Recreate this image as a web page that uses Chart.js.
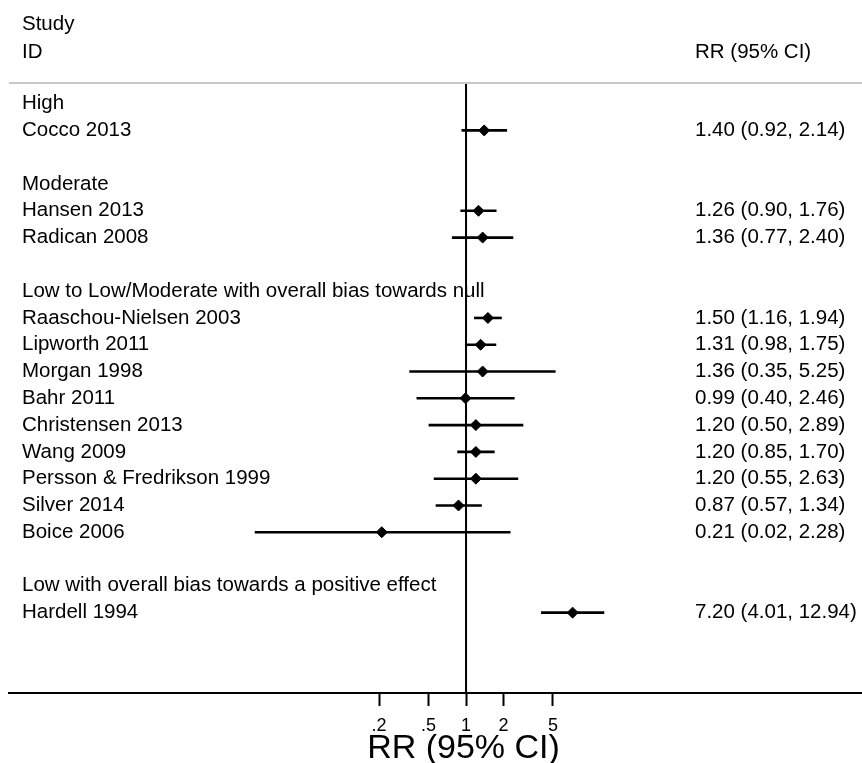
<!DOCTYPE html>
<html>
<head>
<meta charset="utf-8">
<script src="https://cdn.jsdelivr.net/npm/chart.js@4"></script>
<style>
  body { margin: 0; background: #fff; }
  canvas { display: block; }
</style>
</head>
<body>
<canvas id="forest" width="862" height="763"></canvas>
<script>
// datos del forest plot
const groups = ['High', 'Moderate', 'Low to Low/Moderate with overall bias towards null', 'Low with overall bias towards a positive effect'];
const groupRows = [0, 3, 7, 18];

const studies = ['Cocco 2013', 'Hansen 2013', 'Radican 2008', 'Raaschou-Nielsen 2003', 'Lipworth 2011', 'Morgan 1998',
  'Bahr 2011', 'Christensen 2013', 'Wang 2009', 'Persson & Fredrikson 1999', 'Silver 2014', 'Boice 2006', 'Hardell 1994'];
const studyRows = [1, 4, 5, 8, 9, 10, 11, 12, 13, 14, 15, 16, 19];
const rr    = [1.40, 1.26, 1.36, 1.50, 1.31, 1.36, 0.99, 1.20, 1.20, 1.20, 0.87, 0.21, 7.20];
const lower = [0.92, 0.90, 0.77, 1.16, 0.98, 0.35, 0.40, 0.50, 0.85, 0.55, 0.57, 0.02, 4.01];
const upper = [2.14, 1.76, 2.40, 1.94, 1.75, 5.25, 2.46, 2.89, 1.70, 2.63, 1.34, 2.28, 12.94];

const xTicks = [0.2, 0.5, 1, 2, 5];
const xTickLabels = ['.2', '.5', '1', '2', '5'];

const FONT = 'Liberation Sans, Arial, sans-serif';

function fmt(v) { return v.toFixed(2); }

// una serie por intervalo de confianza
const ciSets = studies.map((s, i) => ({
  type: 'line',
  label: s,
  data: [{x: lower[i], y: studyRows[i]}, {x: upper[i], y: studyRows[i]}],
  borderColor: '#000',
  borderWidth: 2.6,
  pointRadius: 0,
  clip: false
}));

const textPlugin = {
  id: 'forestText',
  afterDraw(chart) {
    const ctx = chart.ctx;
    const xs = chart.scales.x;
    const ys = chart.scales.y;
    const area = chart.chartArea;
    ctx.save();

    // linea gris bajo el encabezado
    ctx.strokeStyle = '#c8c8c8';
    ctx.lineWidth = 2;
    ctx.beginPath();
    ctx.moveTo(area.left, area.top);
    ctx.lineTo(area.right, area.top);
    ctx.stroke();

    ctx.fillStyle = '#000';
    ctx.font = '20.5px ' + FONT;
    ctx.textBaseline = 'middle';
    ctx.textAlign = 'left';

    ctx.fillText('Study', 22, ys.getPixelForValue(-2.95));
    ctx.fillText('ID', 22, ys.getPixelForValue(-1.92));
    ctx.fillText('RR (95% CI)', 695, ys.getPixelForValue(-1.92));

    groups.forEach((g, i) => ctx.fillText(g, 22, ys.getPixelForValue(groupRows[i])));
    studies.forEach((s, i) => {
      const y = ys.getPixelForValue(studyRows[i]);
      ctx.fillText(s, 22, y);
      ctx.fillText(fmt(rr[i]) + ' (' + fmt(lower[i]) + ', ' + fmt(upper[i]) + ')', 695, y);
    });

    // titulo del eje
    ctx.font = '34px ' + FONT;
    ctx.textAlign = 'center';
    ctx.textBaseline = 'alphabetic';
    ctx.fillText('RR (95% CI)', xs.getPixelForValue(1) - 2.5, 758);
    ctx.restore();
  }
};

new Chart(document.getElementById('forest'), {
  type: 'scatter',
  data: {
    datasets: [
      {
        type: 'line',
        label: 'null',
        data: [{x: 1, y: -0.77}, {x: 1, y: 22}],
        borderColor: '#000',
        borderWidth: 2,
        pointRadius: 0
      },
      ...ciSets,
      {
        type: 'scatter',
        label: 'RR',
        data: rr.map((v, i) => ({x: v, y: studyRows[i]})),
        pointStyle: 'rectRot',
        pointRadius: 5.5,
        backgroundColor: '#000',
        borderColor: '#000',
        borderWidth: 1,
        clip: false
      }
    ]
  },
  options: {
    responsive: false,
    animation: false,
    layout: { autoPadding: false, padding: { left: 9, right: 0, top: 83, bottom: 0 } },
    plugins: {
      legend: { display: false },
      tooltip: { enabled: false }
    },
    scales: {
      x: {
        type: 'logarithmic',
        position: 'bottom',
        bounds: 'data',
        min: 0.000211,
        max: 1530,
        afterBuildTicks: scale => { scale.ticks = xTicks.map(v => ({ value: v })); },
        afterFit: scale => { scale.height = 70; },
        ticks: {
          autoSkip: false,
          maxRotation: 0,
          padding: 9,
          color: '#000',
          font: { family: FONT, size: 18 },
          callback: (value, index) => xTickLabels[index]
        },
        grid: {
          drawOnChartArea: false,
          drawTicks: true,
          tickLength: 13,
          tickColor: '#000',
          tickWidth: 2
        },
        border: { display: true, color: '#000', width: 2 }
      },
      y: {
        type: 'linear',
        display: false,
        reverse: true,
        min: -0.77,
        max: 22
      }
    }
  },
  plugins: [textPlugin]
});
</script>
</body>
</html>
